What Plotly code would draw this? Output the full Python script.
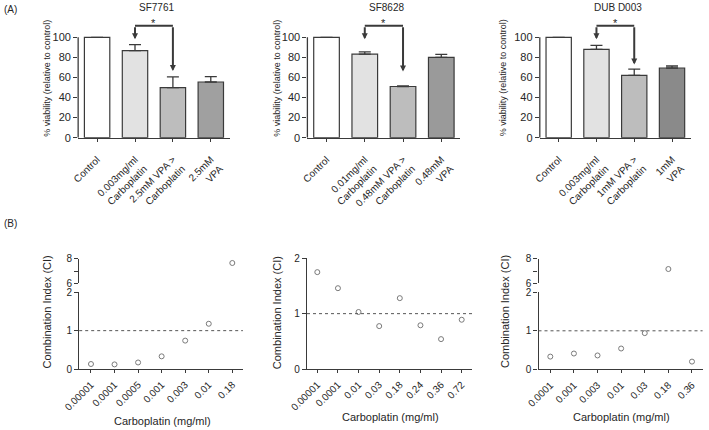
import plotly.graph_objects as go

W, H = 709, 430

# ---------------- data ----------------
panel_titles = ["SF7761", "SF8628", "DUB D003"]

bar_labels_sf7761 = ["Control", "0.003mg/ml<br>Carboplatin", "2.5mM VPA ><br>Carboplatin", "2.5mM<br>VPA"]
bar_labels_sf8628 = ["Control", "0.01mg/ml<br>Carboplatin", "0.48mM VPA ><br>Carboplatin", "0.48mM<br>VPA"]
bar_labels_dub = ["Control", "0.003mg/ml<br>Carboplatin", "1mM VPA ><br>Carboplatin", "1mM<br>VPA"]

viab_sf7761 = [100, 86.7, 49.8, 55.5]
err_sf7761 = [None, 6.0, 10.7, 5.3]
viab_sf8628 = [100, 83.2, 51.0, 80.0]
err_sf8628 = [None, 2.3, 0.7, 2.9]
viab_dub = [100, 88.0, 62.1, 69.4]
err_dub = [None, 4.0, 6.3, 2.0]

bar_colors_sf7761 = ["#ffffff", "#e2e2e2", "#bdbdbd", "#a0a0a0"]
bar_colors_sf8628 = ["#ffffff", "#e2e2e2", "#bdbdbd", "#9a9a9a"]
bar_colors_dub = ["#ffffff", "#e2e2e2", "#bdbdbd", "#8a8a8a"]

# bracket (left arrow tip, right arrow tip, bracket height)
bracket_sf7761 = (98, 66.4, 111.5)
bracket_sf8628 = (98, 66.0, 111.5)
bracket_dub = (98, 72.9, 111.5)

ci_x_sf7761 = ["0.00001", "0.0001", "0.0005", "0.001", "0.003", "0.01", "0.18"]
ci_sf7761 = [0.13, 0.12, 0.17, 0.33, 0.74, 1.18, 7.65]
ci_x_sf8628 = ["0.00001", "0.0001", "0.01", "0.03", "0.18", "0.24", "0.36", "0.72"]
ci_sf8628 = [1.75, 1.46, 1.03, 0.775, 1.28, 0.79, 0.54, 0.89]
ci_x_dub = ["0.0001", "0.001", "0.003", "0.01", "0.03", "0.18", "0.36"]
ci_dub = [0.33, 0.41, 0.36, 0.54, 0.94, 7.16, 0.20]

FONT = "Liberation Sans, Arial, sans-serif"
TXT = "#262626"
AX = "#3a3a3a"


def px(p):
    return p / W


def py(p):
    return 1 - p / H


fig = go.Figure()
layout = dict(
    template="none",
    width=W, height=H, autosize=False,
    margin=dict(l=0, r=0, t=0, b=0, pad=0),
    paper_bgcolor="white", plot_bgcolor="white",
    showlegend=False,
    font=dict(family=FONT, color=TXT),
)
shapes = []
annotations = []

# ---------------- top row: bar charts ----------------
top_panels = [
    (bar_labels_sf7761, viab_sf7761, err_sf7761, bar_colors_sf7761, bracket_sf7761, (78.15, 229.75)),
    (bar_labels_sf8628, viab_sf8628, err_sf8628, bar_colors_sf8628, bracket_sf8628, (307.4, 460.4)),
    (bar_labels_dub, viab_dub, err_dub, bar_colors_dub, bracket_dub, (539.8, 690.9)),
]
y0_px, ytop_px = 137.7, 12.2
for i, (labels, vals, errs, cols, br, (xl, xr)) in enumerate(top_panels):
    n = i + 1
    xa = "x" if n == 1 else f"x{n}"
    ya = "y" if n == 1 else f"y{n}"
    fig.add_trace(go.Bar(
        x=labels, y=vals, xaxis=xa, yaxis=ya, width=0.67,
        marker=dict(color=cols, line=dict(color=AX, width=1.2)),
        error_y=dict(type="data", symmetric=False, array=errs,
                     arrayminus=[0] * len(errs), color=AX, thickness=1.3, width=6),
    ))
    layout["xaxis" if n == 1 else f"xaxis{n}"] = dict(
        domain=[px(xl), px(xr)], anchor=ya, type="category", automargin=False,
        range=[-0.5, 3.5], showline=True, linecolor=AX, linewidth=1.3,
        ticks="outside", ticklen=3, tickcolor=AX, tickangle=-45, ticklabelstandoff=8,
        tickfont=dict(size=10, color=TXT), showgrid=False, zeroline=False,
    )
    layout["yaxis" if n == 1 else f"yaxis{n}"] = dict(
        domain=[py(y0_px), py(ytop_px)], anchor=xa, range=[0, 125], automargin=False,
        tickvals=[0, 20, 40, 60, 80, 100], showline=False,
        ticks="outside", ticklen=4, tickcolor=AX, tickwidth=1.2,
        tickfont=dict(size=11, color=TXT), showgrid=False, zeroline=False,
    )
    # y axis line only from 0 to 100
    shapes.append(dict(type="line", xref=f"{xa} domain", yref=ya, x0=0, x1=0, y0=0, y1=100,
                       line=dict(color=AX, width=1.3)))
    # bracket
    left_tip, right_tip, top = br
    shapes.append(dict(type="line", xref=xa, yref=ya, x0=labels[1], x1=labels[2], y0=top, y1=top,
                       line=dict(color=AX, width=2)))
    for cat, tip in ((labels[1], left_tip), (labels[2], right_tip)):
        annotations.append(dict(x=cat, y=tip, ax=cat, ay=top, xref=xa, yref=ya, axref=xa, ayref=ya,
                                text="", showarrow=True, arrowhead=2, arrowsize=0.6, arrowwidth=2,
                                arrowcolor=AX))
    annotations.append(dict(x=1.5, y=top + 2.5, xref=xa, yref=ya, text="*", showarrow=False,
                            yanchor="middle", font=dict(size=11, color=TXT)))
    # panel title
    annotations.append(dict(x=px((xl + xr) / 2 + 3), y=py(8), xref="paper", yref="paper",
                            text=panel_titles[i], showarrow=False, xanchor="center", yanchor="middle",
                            font=dict(size=10, color=TXT)))

# y titles top
for xc in (46.7, 276.7, 503.3):
    annotations.append(dict(x=px(xc), y=py(78), xref="paper", yref="paper",
                            text="% viability (relative to control)", textangle=-90, showarrow=False,
                            xanchor="center", yanchor="middle", font=dict(size=9, color=TXT)))

# ---------------- bottom row: combination index ----------------
bottom_panels = [
    # (cats, vals, x domain px, xrange, lower domain px, upper domain px or None)
    (ci_x_sf7761, ci_sf7761, (79.2, 242.9), 6.45, (369, 292.3), (283.3, 258.7)),
    (ci_x_sf8628, ci_sf8628, (307.0, 472.0), 7.5, (369, 258.3), None),
    (ci_x_dub, ci_dub, (538.5, 702.6), 6.45, (369.3, 292.3), (283.3, 258.7)),
]
marker = dict(symbol="circle-open", size=5, color="#7a7a7a", line=dict(width=1, color="#7a7a7a"))
xi, yi = 4, 4
for cats, vals, (xl, xr), xmax, low, up in bottom_panels:
    xa, ya_low = f"x{xi}", f"y{yi}"
    low_x = [c for c, v in zip(cats, vals) if v <= 2]
    low_v = [v for v in vals if v <= 2]
    fig.add_trace(go.Scatter(x=low_x, y=low_v, mode="markers", xaxis=xa, yaxis=ya_low,
                             marker=marker, cliponaxis=False))
    layout[f"xaxis{xi}"] = dict(
        domain=[px(xl), px(xr)], anchor=ya_low, type="category", automargin=False,
        categoryorder="array", categoryarray=cats,
        range=[-0.5, xmax], showline=True, linecolor=AX, linewidth=1.3,
        ticks="outside", ticklen=3, tickcolor=AX, tickangle=-45, ticklabelstandoff=2,
        tickfont=dict(size=10, color=TXT), showgrid=False, zeroline=False,
    )
    layout[f"yaxis{yi}"] = dict(
        domain=[py(low[0]), py(low[1])], anchor=xa, range=[0, 2], automargin=False,
        tickvals=[0, 1, 2], showline=True, linecolor=AX, linewidth=1.3,
        ticks="outside", ticklen=4, tickcolor=AX, tickwidth=1.2,
        tickfont=dict(size=10, color=TXT), showgrid=False, zeroline=False,
    )
    shapes.append(dict(type="line", xref=f"{xa} domain", yref=ya_low, x0=0, x1=1, y0=1, y1=1,
                       line=dict(color="#555555", width=1, dash="dot")))
    if up is not None:
        ya_up = f"y{yi + 1}"
        up_x = [c for c, v in zip(cats, vals) if v > 2]
        up_v = [v for v in vals if v > 2]
        fig.add_trace(go.Scatter(x=up_x, y=up_v, mode="markers", xaxis=xa, yaxis=ya_up,
                                 marker=marker, cliponaxis=False))
        layout[f"yaxis{yi + 1}"] = dict(
            domain=[py(up[0]), py(up[1])], anchor=xa, range=[6, 8], automargin=False,
            tickvals=[6, 7, 8], ticktext=["6", "", "8"], showline=True, linecolor=AX, linewidth=1.3,
            ticks="outside", ticklen=4, tickcolor=AX, tickwidth=1.2,
            tickfont=dict(size=10, color=TXT), showgrid=False, zeroline=False,
        )
        yi += 2
    else:
        yi += 1
    xi += 1

for xc, yc in ((46.7, 311.7), (276.7, 312.5), (505, 312)):
    annotations.append(dict(x=px(xc), y=py(yc), xref="paper", yref="paper",
                            text="Combination Index (CI)", textangle=-90, showarrow=False,
                            xanchor="center", yanchor="middle", font=dict(size=11, color=TXT)))
for xc, yc in ((162, 421), (390, 417), (621.7, 417)):
    annotations.append(dict(x=px(xc), y=py(yc), xref="paper", yref="paper",
                            text="Carboplatin (mg/ml)", showarrow=False,
                            xanchor="center", yanchor="middle", font=dict(size=11, color=TXT)))

annotations.append(dict(x=px(2), y=py(2), xref="paper", yref="paper", text="(A)", showarrow=False,
                        xanchor="left", yanchor="top", font=dict(size=10, color=TXT)))
annotations.append(dict(x=px(2), y=py(216), xref="paper", yref="paper", text="(B)", showarrow=False,
                        xanchor="left", yanchor="top", font=dict(size=10, color=TXT)))

layout["shapes"] = shapes
layout["annotations"] = annotations
fig.update_layout(**layout)
fig.write_html("out.html", config={"displayModeBar": False},
               post_script="document.body.style.margin='0';document.body.style.overflow='hidden';")
